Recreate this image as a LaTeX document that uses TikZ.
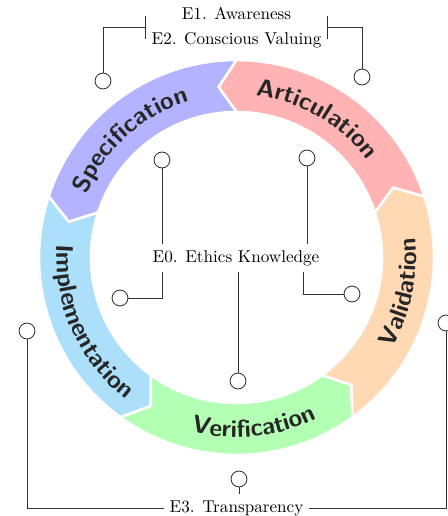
\documentclass[tikz,border=0pt]{standalone}
\usepackage{fontspec}
\usetikzlibrary{decorations.text,arrows.meta,calc}
\definecolor{cArt}{HTML}{FFB3B3}
\definecolor{cSpe}{HTML}{B3B3FF}
\definecolor{cImp}{HTML}{ACDFF9}
\definecolor{cVer}{HTML}{B3FFB3}
\definecolor{cVal}{HTML}{FFD9B3}
\definecolor{segtext}{HTML}{262626}
\definecolor{wire}{HTML}{333333}
\newcommand\segstyle{\sffamily\bfseries\fontsize{14.4}{14.4}\selectfont\color{segtext}}
\tikzset{
  seg/.style={fill=#1, draw=white, line width=1.5pt, line join=miter},
  hole/.style={circle, draw=wire, line width=0.5pt, minimum size=9.3pt, inner sep=0pt, fill=white},
  wirel/.style={draw=wire, line width=0.5pt},
  etext/.style={font=\fontsize{10}{12}\selectfont, inner sep=3.3pt},
  arctext/.style={decorate, decoration={text along path, text align=center, text={|\segstyle|#1}}},
}
\begin{document}
\begin{tikzpicture}[x=0.584pt,y=0.584pt]
\useasboundingbox (0,0) rectangle (448,516);
\begin{scope}[shift={(236.5,258.5)}]
  \foreach \a/\c in {18/cArt, 90/cSpe, 162/cImp, 234/cVer, 306/cVal}{
    \pgfmathsetmacro\b{\a+72}
    \path[seg=\c] (\a:197.5) arc[start angle=\a, end angle=\b, radius=197.5]
      -- (\b+6:171.5) -- (\b:145.5) arc[start angle=\b, end angle=\a, radius=145.5]
      -- (\a+6:171.5) -- cycle;
  }
  \path[arctext=Articulation] (100:163) arc[start angle=100, end angle=20, radius=163];
  \path[arctext=Specification] (172:163) arc[start angle=172, end angle=92, radius=163];
  \path[arctext=Implementation] (164:180) arc[start angle=164, end angle=244, radius=180];
  \path[arctext=Verification] (236:180) arc[start angle=236, end angle=316, radius=180];
  \path[arctext=Validation] (308:180) arc[start angle=308, end angle=388, radius=180];
\end{scope}

\node[etext] (E0) at (236,258) {E0. Ethics Knowledge};
\node[etext, align=center] (E12) at (236.5,488.5) {E1. Awareness\\[2.5pt]E2. Conscious Valuing};
\node[etext] (E3) at (236.5,8) {E3. Transparency};

\node[hole] (c1) at (162,356) {};
\node[hole] (c2) at (307,358) {};
\node[hole] (c3) at (120,218) {};
\node[hole] (c4) at (352,222) {};
\node[hole] (c5) at (238,135) {};
\node[hole] (c6) at (103,435) {};
\node[hole] (c7) at (362,439) {};
\node[hole] (c8) at (27,185) {};
\node[hole] (c9) at (446,193) {};
\node[hole] (c10) at (239,37) {};

\draw[wirel] (c1) -- (c1 |- E0.north);
\draw[wirel] (c2) -- (c2 |- E0.north);
\draw[wirel] (c1 |- E0.south) |- (c3);
\draw[wirel] ([xshift=-2]c2 |- E0.south) |- (c4);
\draw[wirel] (c5) -- (c5 |- E0.south);
\draw[wirel,-{Bar[width=14pt]}] (c6) |- (E12.west);
\draw[wirel,-{Bar[width=14pt]}] (c7) |- (E12.east);
\draw[wirel] (E3.west) -| (c8);
\draw[wirel] (E3.east) -| (c9);
\draw[wirel] (c10) -- (c10 |- E3.north);
\end{tikzpicture}
\end{document}
